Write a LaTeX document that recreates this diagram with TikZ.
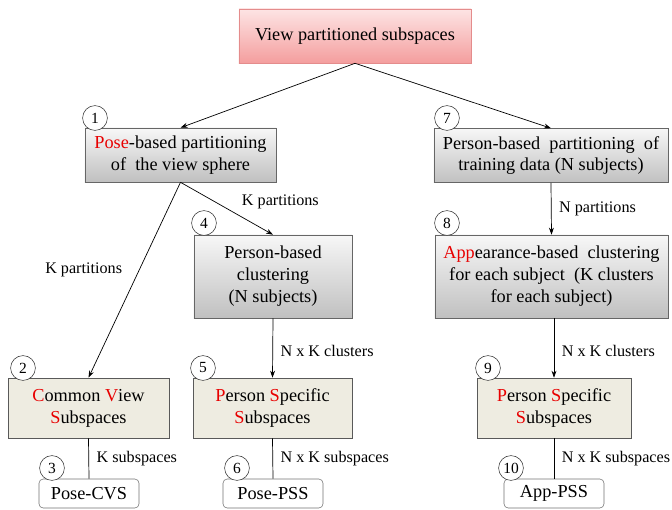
\documentclass[tikz,border=0pt]{standalone}
\usepackage{fontspec}
\setmainfont{Liberation Serif}
\usepackage{xcolor}
\usetikzlibrary{arrows.meta,positioning,shadows}
\definecolor{PinkTop}{RGB}{253,228,228}
\definecolor{PinkBot}{RGB}{244,158,158}
\definecolor{PinkLine}{RGB}{228,140,140}
\definecolor{GrayTop}{RGB}{247,247,247}
\definecolor{GrayBot}{RGB}{192,192,192}
\definecolor{Beige}{RGB}{238,236,225}
\definecolor{TxtRed}{RGB}{232,0,0}
\newcommand{\redtxt}[1]{\textcolor{TxtRed}{#1}}

\begin{document}
\begin{tikzpicture}[x=0.025cm, y=-0.025cm,
	txt/.style={font=\fontsize{13}{15.6}\selectfont, align=center, inner sep=2pt},
	topbox/.style={txt, draw=PinkLine, top color=PinkTop, bottom color=PinkBot,
		minimum width=5.8cm, minimum height=1.35cm},
	graybox/.style={txt, draw=black!60, top color=GrayTop, bottom color=GrayBot,
		drop shadow={shadow xshift=0.6pt, shadow yshift=-0.6pt, fill=black!45}},
	beigebox/.style={txt, draw=black!65, fill=Beige, minimum height=1.5cm,
		drop shadow={shadow xshift=0.6pt, shadow yshift=-0.6pt, fill=black!45}},
	endbox/.style={txt, draw=black!55, fill=white, rounded corners=3pt,
		minimum width=2.5cm, minimum height=0.725cm},
	numcirc/.style={circle, draw=black!80, fill=white, minimum size=0.62cm,
		inner sep=0pt, font=\fontsize{11}{12}\selectfont},
	lab/.style={font=\fontsize{11.5}{13}\selectfont},
	arr/.style={-{Stealth[length=5pt, width=3.5pt]}, line width=0.5pt},
	con/.style={line width=0.5pt}]
	\useasboundingbox (0,0) rectangle (672,509);
	% boxes
	\node[topbox] (top) at (355,36) {View partitioned subspaces};
	\node[graybox, minimum width=4.775cm, minimum height=1.35cm] (pose) at (180.5,155)
		{\redtxt{Pose}-based partitioning\\of~ the view sphere};
	\node[graybox, minimum width=5.85cm, minimum height=1.35cm] (person) at (551,155.5)
		{Person-based~ partitioning~ of\\training data (N subjects)};
	\node[graybox, minimum width=3.95cm, minimum height=2.075cm] (pclust) at (273,276.5)
		{Person-based\\clustering\\(N subjects)};
	\node[graybox, minimum width=5.825cm, minimum height=2.075cm] (aclust) at (551.5,276.5)
		{\redtxt{App}earance-based~ clustering\\for each subject~ (K clusters\\for each subject)};
	\node[beigebox, minimum width=4.025cm] (cvs) at (88.5,408)
		{\redtxt{C}ommon \redtxt{V}iew\\\redtxt{S}ubspaces};
	\node[beigebox, minimum width=3.975cm] (pssa) at (272.5,408)
		{\redtxt{P}erson \redtxt{S}pecific\\\redtxt{S}ubspaces};
	\node[beigebox, minimum width=3.85cm] (pssb) at (554,408)
		{\redtxt{P}erson \redtxt{S}pecific\\\redtxt{S}ubspaces};
	\node[endbox] (posecvs) at (89,493.5) {Pose-CVS};
	\node[endbox] (posepss) at (273,493.5) {Pose-PSS};
	\node[endbox] (apppss) at (554,493.5) {App-PSS};
	% connectors
	\draw[arr] (top.south) -- (pose.north);
	\draw[arr] (top.south) -- (person.north);
	\draw[arr] (pose.south) -- node[lab, left=0.3cm, pos=0.45] {K partitions} (cvs.north);
	\draw[arr] (pose.south) -- node[lab, anchor=south west, pos=0.61] {K partitions} (pclust.north);
	\draw[arr] (person.south) -- node[lab, right=2pt] {N partitions} (aclust.north);
	\draw[arr] (pclust.south) -- node[lab, right=2pt, pos=0.55] {N x K clusters} (pssa.north);
	\draw[arr] (aclust.south -| pssb.north) -- node[lab, right=2pt, pos=0.55] {N x K clusters} (pssb.north);
	\draw[con] (cvs.south) -- node[lab, right=2pt] {K subspaces} (posecvs.north);
	\draw[con] (pssa.south) -- node[lab, right=2pt] {N x K subspaces} (posepss.north);
	\draw[con] (pssb.south) -- node[lab, right=2pt] {N x K subspaces} (apppss.north);
	% step numbers
	\foreach \n/\cx/\cy in {1/95/118, 2/23/368, 3/52/468, 4/204/223, 5/203/368,
		6/237/468, 7/447/118, 8/447/223, 9/488/368, 10/511/468}
		\node[numcirc] (n\n) at (\cx,\cy) {\n};
\end{tikzpicture}
\end{document}
